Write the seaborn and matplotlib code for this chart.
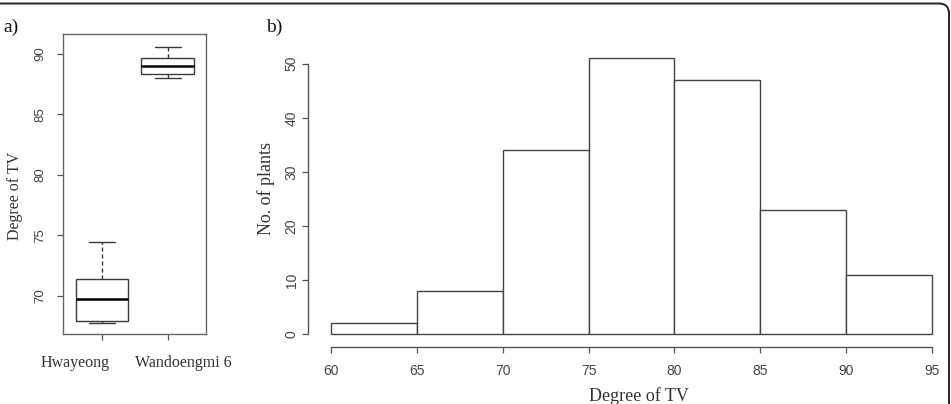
import pandas as pd
import matplotlib
matplotlib.use('Agg')
import matplotlib.pyplot as plt
from matplotlib.patches import FancyBboxPatch
from matplotlib.transforms import IdentityTransform, ScaledTranslation
import seaborn as sns

# box plot summary values (min, Q1, median, Q3, max)
hwayeong = [67.8, 67.95, 69.75, 71.4, 74.5]
wandoengmi = [88.0, 88.35, 89.0, 89.65, 90.6]
cultivars = ['Hwayeong', 'Wandoengmi 6']

# histogram of panel b
bin_edges = [60, 65, 70, 75, 80, 85, 90, 95]
plant_counts = [2, 8, 34, 51, 47, 23, 11]

serif = 'Liberation Serif'
sans = 'Liberation Sans'
tick_col = '#444444'
line_col = '#555555'

sns.set_style('white')
plt.rcParams['font.family'] = [sans, 'DejaVu Sans']

W, H = 951, 404
fig = plt.figure(figsize=(W / 100, H / 100), dpi=100)

def px_axes(left, top, right, bottom):
    return fig.add_axes([left / W, 1 - bottom / H, (right - left) / W, (bottom - top) / H])

# ---- panel a: box plot ----
ax1 = px_axes(63, 34, 206, 334)
df_box = pd.DataFrame({
    'Cultivar': [cultivars[0]] * len(hwayeong) + [cultivars[1]] * len(wandoengmi),
    'Degree': hwayeong + wandoengmi,
})
sns.boxplot(data=df_box, x='Cultivar', y='Degree', ax=ax1, color='white',
            linecolor='#3a3a3a', linewidth=1.0, width=0.8,
            whiskerprops=dict(linestyle=(0, (3, 2))),
            capprops=dict(linestyle='-'),
            medianprops=dict(color='black', linewidth=1.8))
ax1.set_xlim(-0.59, 1.58)
ax1.set_ylim(66.86, 91.65)
ax1.set_yticks([70, 75, 80, 85, 90])
ax1.set_xlabel('')
ax1.set_ylabel('')
for s in ax1.spines.values():
    s.set_color('#666666')
    s.set_linewidth(1.0)
ax1.tick_params(axis='both', which='both', direction='out', length=4, width=0.9,
                color=line_col, labelcolor=tick_col)
ax1.tick_params(axis='y', left=True, labelsize=9.5, pad=8)
ax1.tick_params(axis='x', bottom=True, pad=11)
for lab in ax1.get_yticklabels():
    lab.set_rotation(90)
    lab.set_va('center')
# the cultivar names sit spread apart from their ticks in the original
shifts = [-26.5, 15.5]
for lab, dx in zip(ax1.get_xticklabels(), shifts):
    lab.set_fontfamily(serif)
    lab.set_fontsize(11.5)
    lab.set_color('#333333')
    lab.set_transform(lab.get_transform() + ScaledTranslation(dx / 100, 0, fig.dpi_scale_trans))

# ---- panel b: histogram ----
ax2 = px_axes(307.7, 47.8, 946, 346.7)
mids = [(a + b) / 2 for a, b in zip(bin_edges[:-1], bin_edges[1:])]
sns.histplot(x=mids, weights=plant_counts, bins=bin_edges, ax=ax2,
             color='white', edgecolor='#444444', linewidth=1.0, alpha=1)
ax2.set_xlim(58.643, 95.815)
ax2.set_ylim(-2.35, 52.94)
ax2.set_xticks(bin_edges)
ax2.set_yticks([0, 10, 20, 30, 40, 50])
ax2.set_xlabel('')
ax2.set_ylabel('')
ax2.spines['top'].set_visible(False)
ax2.spines['right'].set_visible(False)
ax2.spines['left'].set_bounds(0, 50)
ax2.spines['bottom'].set_bounds(60, 95)
for k in ['left', 'bottom']:
    ax2.spines[k].set_color(line_col)
    ax2.spines[k].set_linewidth(1.0)
ax2.tick_params(axis='both', which='both', direction='out', length=4.5, width=0.9,
                color=line_col, labelcolor=tick_col, labelsize=10)
ax2.tick_params(axis='x', bottom=True, pad=8)
ax2.tick_params(axis='y', left=True, pad=2)
for lab in ax2.get_yticklabels():
    lab.set_rotation(90)
    lab.set_va('center')

# ---- text labels ----
fig.text(15 / W, 1 - 196 / H, 'Degree of TV', rotation=90, ha='center', va='center',
         family=serif, size=11.5, color='#333333')
fig.text(266 / W, 1 - 188.5 / H, 'No. of plants', rotation=90, ha='center', va='center',
         family=serif, size=13, color='#333333')
fig.text(639 / W, 1 - 396 / H, 'Degree of TV', ha='center', va='center',
         family=serif, size=13, color='#333333')
fig.text(3 / W, 1 - 27 / H, 'a)', ha='left', va='center', family=serif, size=14, color='#111111')
fig.text(266 / W, 1 - 27 / H, 'b)', ha='left', va='center', family=serif, size=14, color='#111111')

# rounded frame around the figure (cut on left and bottom)
frame = FancyBboxPatch((-30, -30), 949 + 30, H - 3.5 + 30,
                       boxstyle='round,pad=0,rounding_size=10',
                       transform=IdentityTransform(), fill=False,
                       edgecolor='#222222', linewidth=1.4)
fig.patches.append(frame)

fig.savefig('out.png', dpi=100)
